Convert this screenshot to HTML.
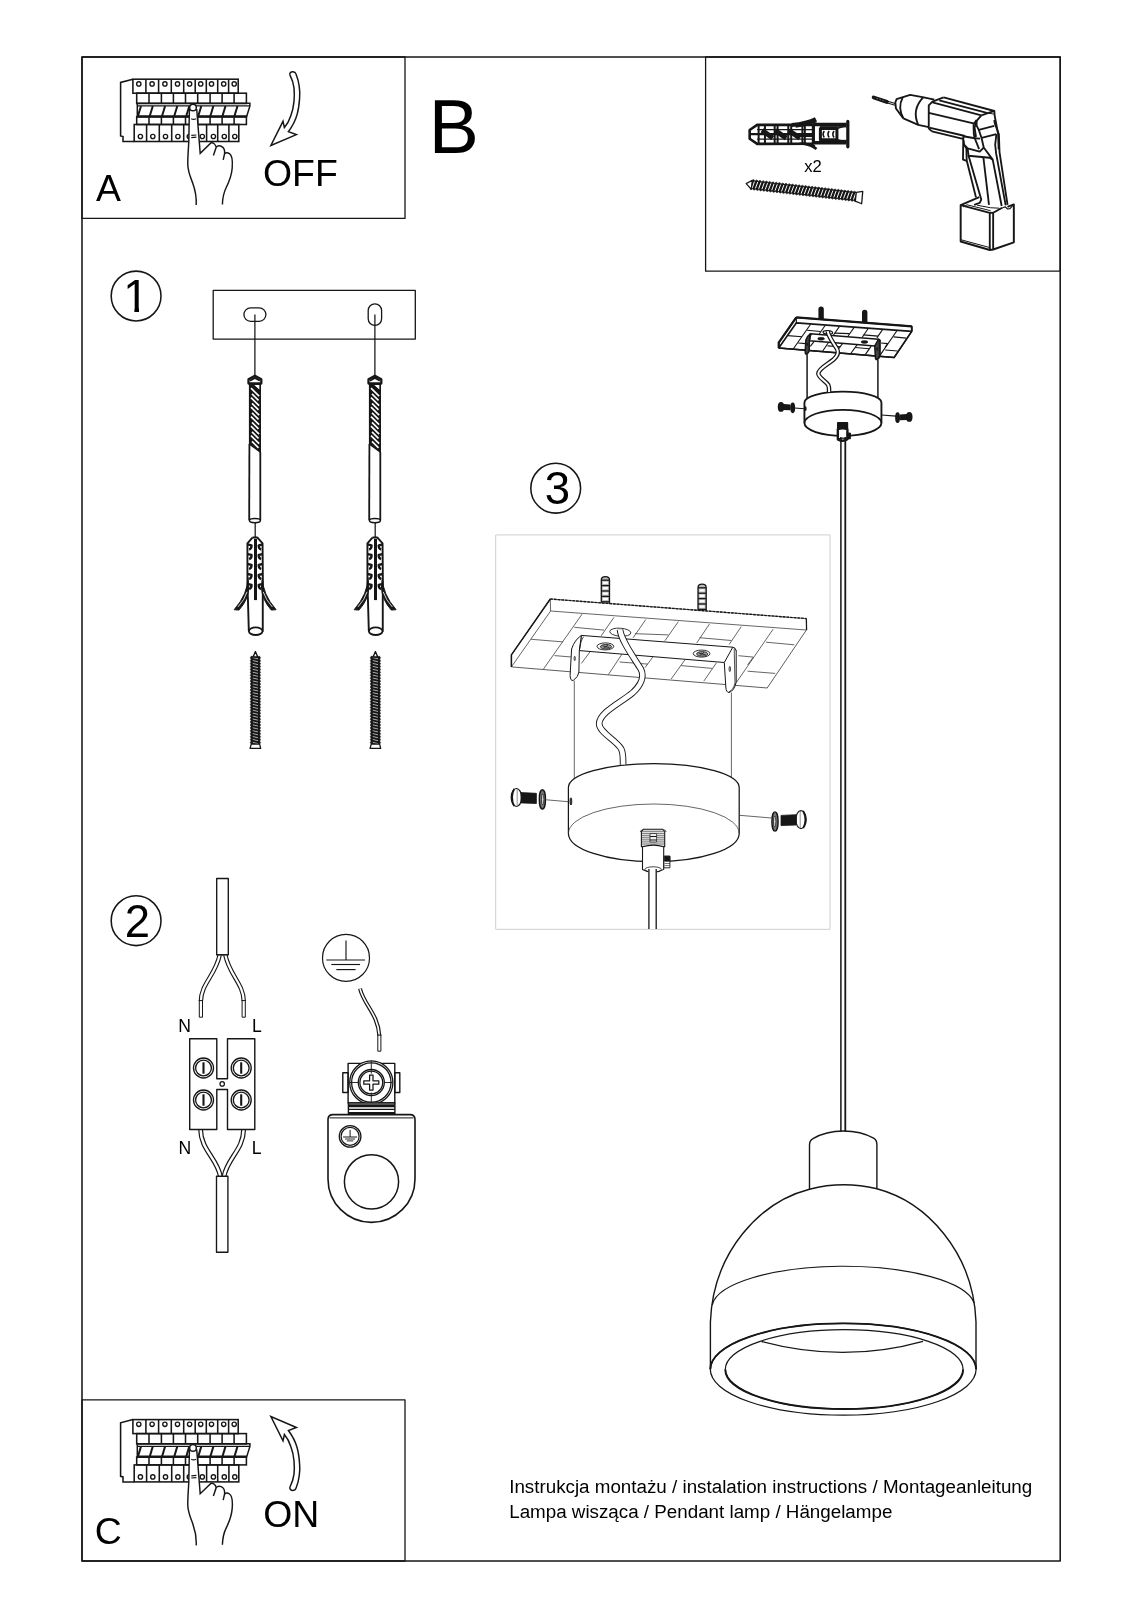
<!DOCTYPE html>
<html lang="pl"><head><meta charset="utf-8"><title>Instrukcja montażu</title>
<style>
html,body{margin:0;padding:0;background:#fff;}
body{width:1131px;height:1600px;overflow:hidden;}
svg{display:block;font-family:"Liberation Sans",sans-serif;will-change:transform;}
</style></head><body>
<svg width="1131" height="1600" viewBox="0 0 1131 1600" fill="none" stroke="#161616" stroke-linejoin="round">
<rect x="82" y="57" width="978.2" height="1504" fill="none" stroke-width="1.55" />
<rect x="82" y="57" width="323" height="161.4" fill="none" stroke-width="1.3" />
<rect x="82" y="1399.8" width="323" height="161.2" fill="none" stroke-width="1.3" />
<rect x="705.6" y="57" width="354.6" height="214.2" fill="none" stroke-width="1.3" />
<g transform="translate(0,0)" stroke-linejoin="miter">
<polyline points="132.9,79.2 120.6,82.4 120.6,135.9 123,136.5 123,141.5 134.2,141.5" fill="none" stroke-width="1.55" />
<rect x="132.9" y="79.2" width="105.3" height="14" fill="none" stroke-width="1.55" />
<line x1="145.9" y1="79.2" x2="145.9" y2="93.2" stroke-width="1.55" />
<line x1="158.6" y1="79.2" x2="158.6" y2="93.2" stroke-width="1.55" />
<line x1="171.3" y1="79.2" x2="171.3" y2="93.2" stroke-width="1.55" />
<line x1="183.7" y1="79.2" x2="183.7" y2="93.2" stroke-width="1.55" />
<line x1="195.2" y1="79.2" x2="195.2" y2="93.2" stroke-width="1.55" />
<line x1="206.3" y1="79.2" x2="206.3" y2="93.2" stroke-width="1.55" />
<line x1="217.7" y1="79.2" x2="217.7" y2="93.2" stroke-width="1.55" />
<line x1="228.6" y1="79.2" x2="228.6" y2="93.2" stroke-width="1.55" />
<circle cx="138.8" cy="83.9" r="2.15" fill="none" stroke-width="1.35" />
<circle cx="152.1" cy="83.9" r="2.15" fill="none" stroke-width="1.35" />
<circle cx="164.9" cy="83.9" r="2.15" fill="none" stroke-width="1.35" />
<circle cx="177.5" cy="83.9" r="2.15" fill="none" stroke-width="1.35" />
<circle cx="189.6" cy="83.9" r="2.15" fill="none" stroke-width="1.35" />
<circle cx="200.7" cy="83.9" r="2.15" fill="none" stroke-width="1.35" />
<circle cx="211.5" cy="83.9" r="2.15" fill="none" stroke-width="1.35" />
<circle cx="223.7" cy="83.9" r="2.15" fill="none" stroke-width="1.35" />
<circle cx="234.2" cy="83.9" r="2.15" fill="none" stroke-width="1.35" />
<rect x="136.7" y="93.2" width="109.7" height="10.3" fill="none" stroke-width="1.55" />
<line x1="149" y1="93.2" x2="149" y2="103.5" stroke-width="1.55" />
<line x1="161.4" y1="93.2" x2="161.4" y2="103.5" stroke-width="1.55" />
<line x1="173.4" y1="93.2" x2="173.4" y2="103.5" stroke-width="1.55" />
<line x1="185.5" y1="93.2" x2="185.5" y2="103.5" stroke-width="1.55" />
<line x1="197.7" y1="93.2" x2="197.7" y2="103.5" stroke-width="1.55" />
<line x1="210.1" y1="93.2" x2="210.1" y2="103.5" stroke-width="1.55" />
<line x1="222.1" y1="93.2" x2="222.1" y2="103.5" stroke-width="1.55" />
<line x1="234.1" y1="93.2" x2="234.1" y2="103.5" stroke-width="1.55" />
<rect x="136.7" y="116.7" width="109.7" height="7.8" fill="none" stroke-width="1.55" />
<line x1="149" y1="116.7" x2="149" y2="124.5" stroke-width="1.55" />
<line x1="161.4" y1="116.7" x2="161.4" y2="124.5" stroke-width="1.55" />
<line x1="173.4" y1="116.7" x2="173.4" y2="124.5" stroke-width="1.55" />
<line x1="185.5" y1="116.7" x2="185.5" y2="124.5" stroke-width="1.55" />
<line x1="197.7" y1="116.7" x2="197.7" y2="124.5" stroke-width="1.55" />
<line x1="210.1" y1="116.7" x2="210.1" y2="124.5" stroke-width="1.55" />
<line x1="222.1" y1="116.7" x2="222.1" y2="124.5" stroke-width="1.55" />
<line x1="234.1" y1="116.7" x2="234.1" y2="124.5" stroke-width="1.55" />
<polygon points="137.3,103.3 249.9,103.3 249.9,106 246.6,116.7 137.3,116.7" fill="none" stroke-width="1.5" />
<line x1="137.3" y1="105.9" x2="249.9" y2="105.9" stroke-width="1.2" />
<line x1="137.3" y1="116.3" x2="247" y2="116.3" stroke-width="2.2" />
<line x1="137.9" y1="116.3" x2="141" y2="106" stroke-width="2.0" />
<line x1="149.7" y1="116.3" x2="152.8" y2="106" stroke-width="2.0" />
<line x1="162" y1="116.3" x2="165.1" y2="106" stroke-width="2.0" />
<line x1="174.2" y1="116.3" x2="177.3" y2="106" stroke-width="2.0" />
<line x1="186.2" y1="116.3" x2="189.3" y2="106" stroke-width="2.0" />
<line x1="198.2" y1="116.3" x2="201.3" y2="106" stroke-width="2.0" />
<line x1="210.3" y1="116.3" x2="213.4" y2="106" stroke-width="2.0" />
<line x1="222.4" y1="116.3" x2="225.5" y2="106" stroke-width="2.0" />
<line x1="234.4" y1="116.3" x2="237.5" y2="106" stroke-width="2.0" />
<rect x="134.2" y="124.5" width="104.6" height="17" fill="none" stroke-width="1.55" />
<line x1="146.6" y1="124.5" x2="146.6" y2="141.5" stroke-width="1.55" />
<line x1="159.3" y1="124.5" x2="159.3" y2="141.5" stroke-width="1.55" />
<line x1="171.7" y1="124.5" x2="171.7" y2="141.5" stroke-width="1.55" />
<line x1="183.7" y1="124.5" x2="183.7" y2="141.5" stroke-width="1.55" />
<line x1="195.2" y1="124.5" x2="195.2" y2="141.5" stroke-width="1.55" />
<line x1="206.6" y1="124.5" x2="206.6" y2="141.5" stroke-width="1.55" />
<line x1="217.7" y1="124.5" x2="217.7" y2="141.5" stroke-width="1.55" />
<line x1="228.9" y1="124.5" x2="228.9" y2="141.5" stroke-width="1.55" />
<circle cx="140.4" cy="136.5" r="2.15" fill="none" stroke-width="1.35" />
<circle cx="152.8" cy="136.5" r="2.15" fill="none" stroke-width="1.35" />
<circle cx="165.5" cy="136.5" r="2.15" fill="none" stroke-width="1.35" />
<circle cx="177.9" cy="136.5" r="2.15" fill="none" stroke-width="1.35" />
<circle cx="189.3" cy="136.5" r="2.15" fill="none" stroke-width="1.35" />
<circle cx="202.3" cy="136.5" r="2.15" fill="none" stroke-width="1.35" />
<circle cx="213.4" cy="136.5" r="2.15" fill="none" stroke-width="1.35" />
<circle cx="224.3" cy="136.5" r="2.15" fill="none" stroke-width="1.35" />
<circle cx="234.8" cy="136.5" r="2.15" fill="none" stroke-width="1.35" />
<path d="M189.4,109 L188.8,141.4 C188.4,150 187.6,158 187.8,165 C188.2,173 191,178 193,184 C195.5,191 196.6,197 196.2,205 L222.4,204.4 C222.6,198 223.6,193 226,188 C229.5,181 231.6,176 232.2,168 C232.8,160 232.4,155.5 229.5,153.6 C227.6,152.4 225.6,152.6 224.6,153.6 C224.9,150 223.8,147.2 221.2,146.2 C219.2,145.5 217.2,146 216.2,147.2 C215.6,144.6 213.4,142.6 211.1,142.8 L200.2,153.3 L196.7,109 Z" fill="#fff" stroke-width="0" stroke="none"/>
<path d="M189.4,109 L188.8,141.4 C188.4,150 187.6,158 187.8,165 C188.2,173 191,178 193,184 C195.5,191 196.6,197 196.2,205" fill="none" stroke-width="1.45" />
<path d="M196.7,109 L200.2,153.3 L211.1,142.8 C213.4,142.6 215.6,144.6 216.2,147.2 L213.4,155.6" fill="none" stroke-width="1.45" />
<path d="M216.2,147.2 C217.2,146 219.2,145.5 221.2,146.2 C223.8,147.2 224.9,150 224.6,153.6 L223.2,159.8" fill="none" stroke-width="1.45" />
<path d="M224.6,153.6 C225.6,152.6 227.6,152.4 229.5,153.6 C232.4,155.5 232.8,160 232.2,168 C231.6,176 229.5,181 226,188 C223.6,193 222.6,198 222.4,204.4" fill="none" stroke-width="1.45" />
<circle cx="193" cy="107.5" r="3.3" fill="#fff" stroke-width="1.45" />
<path d="M191.2,118.8 Q193.6,120 196,118.8" fill="none" stroke-width="1.2" />
<line x1="191.3" y1="135.4" x2="196.4" y2="135" stroke-width="1.2" />
<line x1="191.3" y1="137.6" x2="196.4" y2="137.2" stroke-width="1.2" />
</g>
<path d="M290.0,75.1 C289.2,72.6 291.4,71.6 292.9,71.7 C294.6,71.8 295.6,72.6 296.0,73.9 C297.6,78 298.8,82 299.2,86.3 C299.8,90 300.0,94 299.6,98.2 C299.2,104 298.6,109 297.2,114.1 C295.6,120 292.6,126 288.4,131.6 L296.4,134.6 L270.9,145.5 L283.0,121.3 L284.4,127.6 C287.4,124 289.4,120 290.8,115.7 C292.6,111 293.6,106 294.0,101.4 C294.4,97 294.4,92 294.0,87.9 C293.4,83 292.0,79 290.0,75.1 Z" fill="none" stroke-width="1.5" stroke-linejoin="miter"/>
<g transform="translate(0,1340.4)" stroke-linejoin="miter">
<polyline points="132.9,79.2 120.6,82.4 120.6,135.9 123,136.5 123,141.5 134.2,141.5" fill="none" stroke-width="1.55" />
<rect x="132.9" y="79.2" width="105.3" height="14" fill="none" stroke-width="1.55" />
<line x1="145.9" y1="79.2" x2="145.9" y2="93.2" stroke-width="1.55" />
<line x1="158.6" y1="79.2" x2="158.6" y2="93.2" stroke-width="1.55" />
<line x1="171.3" y1="79.2" x2="171.3" y2="93.2" stroke-width="1.55" />
<line x1="183.7" y1="79.2" x2="183.7" y2="93.2" stroke-width="1.55" />
<line x1="195.2" y1="79.2" x2="195.2" y2="93.2" stroke-width="1.55" />
<line x1="206.3" y1="79.2" x2="206.3" y2="93.2" stroke-width="1.55" />
<line x1="217.7" y1="79.2" x2="217.7" y2="93.2" stroke-width="1.55" />
<line x1="228.6" y1="79.2" x2="228.6" y2="93.2" stroke-width="1.55" />
<circle cx="138.8" cy="83.9" r="2.15" fill="none" stroke-width="1.35" />
<circle cx="152.1" cy="83.9" r="2.15" fill="none" stroke-width="1.35" />
<circle cx="164.9" cy="83.9" r="2.15" fill="none" stroke-width="1.35" />
<circle cx="177.5" cy="83.9" r="2.15" fill="none" stroke-width="1.35" />
<circle cx="189.6" cy="83.9" r="2.15" fill="none" stroke-width="1.35" />
<circle cx="200.7" cy="83.9" r="2.15" fill="none" stroke-width="1.35" />
<circle cx="211.5" cy="83.9" r="2.15" fill="none" stroke-width="1.35" />
<circle cx="223.7" cy="83.9" r="2.15" fill="none" stroke-width="1.35" />
<circle cx="234.2" cy="83.9" r="2.15" fill="none" stroke-width="1.35" />
<rect x="136.7" y="93.2" width="109.7" height="10.3" fill="none" stroke-width="1.55" />
<line x1="149" y1="93.2" x2="149" y2="103.5" stroke-width="1.55" />
<line x1="161.4" y1="93.2" x2="161.4" y2="103.5" stroke-width="1.55" />
<line x1="173.4" y1="93.2" x2="173.4" y2="103.5" stroke-width="1.55" />
<line x1="185.5" y1="93.2" x2="185.5" y2="103.5" stroke-width="1.55" />
<line x1="197.7" y1="93.2" x2="197.7" y2="103.5" stroke-width="1.55" />
<line x1="210.1" y1="93.2" x2="210.1" y2="103.5" stroke-width="1.55" />
<line x1="222.1" y1="93.2" x2="222.1" y2="103.5" stroke-width="1.55" />
<line x1="234.1" y1="93.2" x2="234.1" y2="103.5" stroke-width="1.55" />
<rect x="136.7" y="116.7" width="109.7" height="7.8" fill="none" stroke-width="1.55" />
<line x1="149" y1="116.7" x2="149" y2="124.5" stroke-width="1.55" />
<line x1="161.4" y1="116.7" x2="161.4" y2="124.5" stroke-width="1.55" />
<line x1="173.4" y1="116.7" x2="173.4" y2="124.5" stroke-width="1.55" />
<line x1="185.5" y1="116.7" x2="185.5" y2="124.5" stroke-width="1.55" />
<line x1="197.7" y1="116.7" x2="197.7" y2="124.5" stroke-width="1.55" />
<line x1="210.1" y1="116.7" x2="210.1" y2="124.5" stroke-width="1.55" />
<line x1="222.1" y1="116.7" x2="222.1" y2="124.5" stroke-width="1.55" />
<line x1="234.1" y1="116.7" x2="234.1" y2="124.5" stroke-width="1.55" />
<polygon points="137.3,103.3 249.9,103.3 249.9,106 246.6,116.7 137.3,116.7" fill="none" stroke-width="1.5" />
<line x1="137.3" y1="105.9" x2="249.9" y2="105.9" stroke-width="1.2" />
<line x1="137.3" y1="116.3" x2="247" y2="116.3" stroke-width="2.2" />
<line x1="137.9" y1="116.3" x2="141" y2="106" stroke-width="2.0" />
<line x1="149.7" y1="116.3" x2="152.8" y2="106" stroke-width="2.0" />
<line x1="162" y1="116.3" x2="165.1" y2="106" stroke-width="2.0" />
<line x1="174.2" y1="116.3" x2="177.3" y2="106" stroke-width="2.0" />
<line x1="186.2" y1="116.3" x2="189.3" y2="106" stroke-width="2.0" />
<line x1="198.2" y1="116.3" x2="201.3" y2="106" stroke-width="2.0" />
<line x1="210.3" y1="116.3" x2="213.4" y2="106" stroke-width="2.0" />
<line x1="222.4" y1="116.3" x2="225.5" y2="106" stroke-width="2.0" />
<line x1="234.4" y1="116.3" x2="237.5" y2="106" stroke-width="2.0" />
<rect x="134.2" y="124.5" width="104.6" height="17" fill="none" stroke-width="1.55" />
<line x1="146.6" y1="124.5" x2="146.6" y2="141.5" stroke-width="1.55" />
<line x1="159.3" y1="124.5" x2="159.3" y2="141.5" stroke-width="1.55" />
<line x1="171.7" y1="124.5" x2="171.7" y2="141.5" stroke-width="1.55" />
<line x1="183.7" y1="124.5" x2="183.7" y2="141.5" stroke-width="1.55" />
<line x1="195.2" y1="124.5" x2="195.2" y2="141.5" stroke-width="1.55" />
<line x1="206.6" y1="124.5" x2="206.6" y2="141.5" stroke-width="1.55" />
<line x1="217.7" y1="124.5" x2="217.7" y2="141.5" stroke-width="1.55" />
<line x1="228.9" y1="124.5" x2="228.9" y2="141.5" stroke-width="1.55" />
<circle cx="140.4" cy="136.5" r="2.15" fill="none" stroke-width="1.35" />
<circle cx="152.8" cy="136.5" r="2.15" fill="none" stroke-width="1.35" />
<circle cx="165.5" cy="136.5" r="2.15" fill="none" stroke-width="1.35" />
<circle cx="177.9" cy="136.5" r="2.15" fill="none" stroke-width="1.35" />
<circle cx="189.3" cy="136.5" r="2.15" fill="none" stroke-width="1.35" />
<circle cx="202.3" cy="136.5" r="2.15" fill="none" stroke-width="1.35" />
<circle cx="213.4" cy="136.5" r="2.15" fill="none" stroke-width="1.35" />
<circle cx="224.3" cy="136.5" r="2.15" fill="none" stroke-width="1.35" />
<circle cx="234.8" cy="136.5" r="2.15" fill="none" stroke-width="1.35" />
<path d="M189.4,109 L188.8,141.4 C188.4,150 187.6,158 187.8,165 C188.2,173 191,178 193,184 C195.5,191 196.6,197 196.2,205 L222.4,204.4 C222.6,198 223.6,193 226,188 C229.5,181 231.6,176 232.2,168 C232.8,160 232.4,155.5 229.5,153.6 C227.6,152.4 225.6,152.6 224.6,153.6 C224.9,150 223.8,147.2 221.2,146.2 C219.2,145.5 217.2,146 216.2,147.2 C215.6,144.6 213.4,142.6 211.1,142.8 L200.2,153.3 L196.7,109 Z" fill="#fff" stroke-width="0" stroke="none"/>
<path d="M189.4,109 L188.8,141.4 C188.4,150 187.6,158 187.8,165 C188.2,173 191,178 193,184 C195.5,191 196.6,197 196.2,205" fill="none" stroke-width="1.45" />
<path d="M196.7,109 L200.2,153.3 L211.1,142.8 C213.4,142.6 215.6,144.6 216.2,147.2 L213.4,155.6" fill="none" stroke-width="1.45" />
<path d="M216.2,147.2 C217.2,146 219.2,145.5 221.2,146.2 C223.8,147.2 224.9,150 224.6,153.6 L223.2,159.8" fill="none" stroke-width="1.45" />
<path d="M224.6,153.6 C225.6,152.6 227.6,152.4 229.5,153.6 C232.4,155.5 232.8,160 232.2,168 C231.6,176 229.5,181 226,188 C223.6,193 222.6,198 222.4,204.4" fill="none" stroke-width="1.45" />
<circle cx="193" cy="107.5" r="3.3" fill="#fff" stroke-width="1.45" />
<path d="M191.2,118.8 Q193.6,120 196,118.8" fill="none" stroke-width="1.2" />
<line x1="191.3" y1="135.4" x2="196.4" y2="135" stroke-width="1.2" />
<line x1="191.3" y1="137.6" x2="196.4" y2="137.2" stroke-width="1.2" />
</g>
<g transform="translate(0,1562.1) scale(1,-1)"><path d="M290.0,75.1 C289.2,72.6 291.4,71.6 292.9,71.7 C294.6,71.8 295.6,72.6 296.0,73.9 C297.6,78 298.8,82 299.2,86.3 C299.8,90 300.0,94 299.6,98.2 C299.2,104 298.6,109 297.2,114.1 C295.6,120 292.6,126 288.4,131.6 L296.4,134.6 L270.9,145.5 L283.0,121.3 L284.4,127.6 C287.4,124 289.4,120 290.8,115.7 C292.6,111 293.6,106 294.0,101.4 C294.4,97 294.4,92 294.0,87.9 C293.4,83 292.0,79 290.0,75.1 Z" fill="none" stroke-width="1.5" stroke-linejoin="miter"/></g>
<polygon points="749.67,130 757.16,124.84 813.09,124.84 813.09,143.61 757.16,143.91 749.67,138.75" fill="#fff" stroke-width="2.6" />
<polyline points="749.67,134.18 813.09,134.18" fill="none" stroke-width="2.2" />
<polyline points="758.62,124.84 758.62,143.91" fill="none" stroke-width="2.0" />
<polyline points="764.94,124.84 764.94,143.91" fill="none" stroke-width="2.0" />
<polyline points="774.67,124.84 774.67,143.91" fill="none" stroke-width="2.0" />
<polyline points="777.59,124.84 777.59,143.91" fill="none" stroke-width="2.0" />
<polyline points="788.29,124.84 788.29,143.91" fill="none" stroke-width="2.0" />
<polyline points="791.21,124.84 791.21,143.91" fill="none" stroke-width="2.0" />
<polyline points="802.39,124.84 802.39,143.91" fill="none" stroke-width="2.0" />
<polyline points="804.82,124.84 804.82,143.91" fill="none" stroke-width="2.0" />
<polyline points="757.16,129.7 813.09,129.7" fill="none" stroke-width="1.3" />
<polyline points="757.16,139.04 813.09,139.04" fill="none" stroke-width="1.3" />
<polyline points="762.02,130.29 772.72,138.07" fill="none" stroke-width="5.0" />
<polyline points="775.16,130.48 786.34,138.07" fill="none" stroke-width="5.0" />
<polyline points="788.77,130.48 799.96,138.07" fill="none" stroke-width="5.0" />
<polyline points="797.53,135.35 813.09,135.35" fill="none" stroke-width="3.4" />
<path d="M791.69,125.04 Q807.26,123.48 815.82,119" fill="none" stroke-width="4.0" />
<path d="M795.58,126.59 Q807.26,125.13 816.5,121.24" fill="none" stroke-width="2.4" />
<path d="M803.37,143.61 Q811.15,144.59 816.5,148.96" fill="none" stroke-width="2.6" />
<path d="M799.47,143.32 Q808.23,143.13 815.04,146.05" fill="none" stroke-width="1.6" />
<polyline points="813.09,124.45 846.65,124.45" fill="none" stroke-width="3.6" />
<polyline points="813.09,142.74 846.65,142.74" fill="none" stroke-width="3.6" />
<polyline points="813.87,124.16 813.87,142.93" fill="none" stroke-width="2.2" />
<polyline points="819.9,126.79 846.65,126.79" fill="none" stroke-width="1.3" />
<polyline points="819.9,140.5 846.65,140.5" fill="none" stroke-width="1.3" />
<polygon points="820.39,128.54 836.93,128.54 836.93,139.72 820.39,139.72" fill="none" stroke-width="3.0" />
<polyline points="836.93,128.54 846.17,125.62" fill="none" stroke-width="1.5" />
<polyline points="836.93,139.72 846.17,141.67" fill="none" stroke-width="1.5" />
<path d="M824.28,130.97 Q821.95,134.18 824.28,137.49" fill="none" stroke-width="1.6" />
<path d="M829.14,130.97 Q826.81,134.18 829.14,137.49" fill="none" stroke-width="1.6" />
<path d="M834.01,130.97 Q831.67,134.18 834.01,137.49" fill="none" stroke-width="1.6" />
<polyline points="847.82,121.44 847.82,146.82" fill="none" stroke-width="3.2" stroke-linecap="round"/>
<g transform="translate(751.3,184.6) rotate(6.52)">
<polygon points="0,-4.1 1.64,-5.2 3.29,-4.1 4.93,-5.2 6.58,-4.1 8.22,-5.2 9.86,-4.1 11.51,-5.2 13.15,-4.1 14.79,-5.2 16.44,-4.1 18.08,-5.2 19.73,-4.1 21.37,-5.2 23.01,-4.1 24.66,-5.2 26.3,-4.1 27.94,-5.2 29.59,-4.1 31.23,-5.2 32.88,-4.1 34.52,-5.2 36.16,-4.1 37.81,-5.2 39.45,-4.1 41.09,-5.2 42.74,-4.1 44.38,-5.2 46.02,-4.1 47.67,-5.2 49.31,-4.1 50.96,-5.2 52.6,-4.1 54.24,-5.2 55.89,-4.1 57.53,-5.2 59.18,-4.1 60.82,-5.2 62.46,-4.1 64.11,-5.2 65.75,-4.1 67.39,-5.2 69.04,-4.1 70.68,-5.2 72.33,-4.1 73.97,-5.2 75.61,-4.1 77.26,-5.2 78.9,-4.1 80.54,-5.2 82.19,-4.1 83.83,-5.2 85.48,-4.1 87.12,-5.2 88.76,-4.1 90.41,-5.2 92.05,-4.1 93.69,-5.2 95.34,-4.1 96.98,-5.2 98.62,-4.1 100.27,-5.2 101.91,-4.1 103.56,-5.2 105.2,-4.1 105.2,5.2 103.56,4.1 101.91,5.2 100.27,4.1 98.62,5.2 96.98,4.1 95.34,5.2 93.69,4.1 92.05,5.2 90.41,4.1 88.76,5.2 87.12,4.1 85.48,5.2 83.83,4.1 82.19,5.2 80.54,4.1 78.9,5.2 77.26,4.1 75.61,5.2 73.97,4.1 72.33,5.2 70.68,4.1 69.04,5.2 67.39,4.1 65.75,5.2 64.11,4.1 62.46,5.2 60.82,4.1 59.18,5.2 57.53,4.1 55.89,5.2 54.24,4.1 52.6,5.2 50.96,4.1 49.31,5.2 47.67,4.1 46.02,5.2 44.38,4.1 42.74,5.2 41.09,4.1 39.45,5.2 37.81,4.1 36.16,5.2 34.52,4.1 32.88,5.2 31.23,4.1 29.59,5.2 27.94,4.1 26.3,5.2 24.66,4.1 23.01,5.2 21.37,4.1 19.73,5.2 18.08,4.1 16.44,5.2 14.79,4.1 13.15,5.2 11.51,4.1 9.86,5.2 8.22,4.1 6.58,5.2 4.93,4.1 3.29,5.2 1.64,4.1 0,5.2" fill="#161616" stroke-width="0.6" />
<line x1="2.81" y1="-3.3" x2="1.21" y2="3.3" stroke-width="0.95" stroke="#fff"/>
<line x1="6.1" y1="-3.3" x2="4.5" y2="3.3" stroke-width="0.95" stroke="#fff"/>
<line x1="9.38" y1="-3.3" x2="7.78" y2="3.3" stroke-width="0.95" stroke="#fff"/>
<line x1="12.67" y1="-3.3" x2="11.07" y2="3.3" stroke-width="0.95" stroke="#fff"/>
<line x1="15.96" y1="-3.3" x2="14.36" y2="3.3" stroke-width="0.95" stroke="#fff"/>
<line x1="19.25" y1="-3.3" x2="17.65" y2="3.3" stroke-width="0.95" stroke="#fff"/>
<line x1="22.53" y1="-3.3" x2="20.93" y2="3.3" stroke-width="0.95" stroke="#fff"/>
<line x1="25.82" y1="-3.3" x2="24.22" y2="3.3" stroke-width="0.95" stroke="#fff"/>
<line x1="29.11" y1="-3.3" x2="27.51" y2="3.3" stroke-width="0.95" stroke="#fff"/>
<line x1="32.4" y1="-3.3" x2="30.8" y2="3.3" stroke-width="0.95" stroke="#fff"/>
<line x1="35.68" y1="-3.3" x2="34.08" y2="3.3" stroke-width="0.95" stroke="#fff"/>
<line x1="38.97" y1="-3.3" x2="37.37" y2="3.3" stroke-width="0.95" stroke="#fff"/>
<line x1="42.26" y1="-3.3" x2="40.66" y2="3.3" stroke-width="0.95" stroke="#fff"/>
<line x1="45.55" y1="-3.3" x2="43.95" y2="3.3" stroke-width="0.95" stroke="#fff"/>
<line x1="48.83" y1="-3.3" x2="47.23" y2="3.3" stroke-width="0.95" stroke="#fff"/>
<line x1="52.12" y1="-3.3" x2="50.52" y2="3.3" stroke-width="0.95" stroke="#fff"/>
<line x1="55.41" y1="-3.3" x2="53.81" y2="3.3" stroke-width="0.95" stroke="#fff"/>
<line x1="58.7" y1="-3.3" x2="57.1" y2="3.3" stroke-width="0.95" stroke="#fff"/>
<line x1="61.98" y1="-3.3" x2="60.38" y2="3.3" stroke-width="0.95" stroke="#fff"/>
<line x1="65.27" y1="-3.3" x2="63.67" y2="3.3" stroke-width="0.95" stroke="#fff"/>
<line x1="68.56" y1="-3.3" x2="66.96" y2="3.3" stroke-width="0.95" stroke="#fff"/>
<line x1="71.85" y1="-3.3" x2="70.25" y2="3.3" stroke-width="0.95" stroke="#fff"/>
<line x1="75.13" y1="-3.3" x2="73.53" y2="3.3" stroke-width="0.95" stroke="#fff"/>
<line x1="78.42" y1="-3.3" x2="76.82" y2="3.3" stroke-width="0.95" stroke="#fff"/>
<line x1="81.71" y1="-3.3" x2="80.11" y2="3.3" stroke-width="0.95" stroke="#fff"/>
<line x1="85" y1="-3.3" x2="83.4" y2="3.3" stroke-width="0.95" stroke="#fff"/>
<line x1="88.28" y1="-3.3" x2="86.68" y2="3.3" stroke-width="0.95" stroke="#fff"/>
<line x1="91.57" y1="-3.3" x2="89.97" y2="3.3" stroke-width="0.95" stroke="#fff"/>
<line x1="94.86" y1="-3.3" x2="93.26" y2="3.3" stroke-width="0.95" stroke="#fff"/>
<line x1="98.15" y1="-3.3" x2="96.55" y2="3.3" stroke-width="0.95" stroke="#fff"/>
<line x1="101.43" y1="-3.3" x2="99.83" y2="3.3" stroke-width="0.95" stroke="#fff"/>
<line x1="104.72" y1="-3.3" x2="103.12" y2="3.3" stroke-width="0.95" stroke="#fff"/>
<polygon points="0.5,-4.4 -5.2,-0.4 0.5,4.6" fill="#fff" stroke-width="1.2" />
<polygon points="105.2,-4.3 111.5,-5.9 111.8,6.5 105.2,4.7" fill="#fff" stroke-width="1.3" />
</g>
<polyline points="873.66,97.5 886.78,101.96" fill="none" stroke-width="3.9" stroke-linecap="round"/>
<polyline points="876.76,98.37 885.42,101.34" fill="none" stroke-width="0.6" stroke="#ccc" stroke-dasharray="1.2 1.8"/>
<polyline points="887.03,101.09 895.08,103.57" fill="none" stroke-width="1.1" />
<polyline points="886.66,102.7 895.08,105.18" fill="none" stroke-width="1.1" />
<polyline points="903.37,118.42 895.94,108.52 895.33,102.33 896.56,99.23 910.18,94.9 923.79,97.38 934.32,99.61" fill="none" stroke-width="1.85" />
<path d="M902.75,97.38 Q897.43,107.28 903.37,118.42" fill="none" stroke-width="1.85" />
<polyline points="903.37,118.42 918.22,124.86 928.75,127.08" fill="none" stroke-width="1.85" />
<path d="M923.18,97.38 Q911.42,109.76 918.22,124.86" fill="none" stroke-width="1.85" />
<polyline points="943.6,97.38 932.46,101.71 928.75,105.42 928.75,128.32 931.84,131.42" fill="none" stroke-width="1.85" />
<polyline points="943.6,97.38 994.35,110.99" fill="none" stroke-width="1.85" />
<polyline points="939.27,100.47 986.92,112.85" fill="none" stroke-width="1.85" />
<polyline points="932.46,102.33 981.35,115.33" fill="none" stroke-width="1.85" />
<polyline points="928.75,112.85 974.54,123.62 976.4,121.14" fill="none" stroke-width="1.85" />
<polyline points="929.36,127.7 964.02,135.75 965.01,136.74" fill="none" stroke-width="1.85" />
<polyline points="931.84,131.42 964.02,139.21" fill="none" stroke-width="1.85" />
<polyline points="981.35,115.33 994.35,110.99 994.6,115.33 998.06,133.52 998.68,149.36" fill="none" stroke-width="1.85" />
<polyline points="986.92,112.85 993.73,114.09" fill="none" stroke-width="1.0" />
<polyline points="981.35,115.33 976.4,121.14 974.54,127.7 976.03,136.99" fill="none" stroke-width="1.85" />
<polyline points="973.52,124.33 976.61,120" fill="none" stroke-width="1.85" />
<polyline points="973.52,124.33 973.83,134.24 974.76,138.26" fill="none" stroke-width="1.85" />
<polyline points="976.61,120 976.61,125.57 978.78,129.9 981.57,137.95 983.73,147.54 992.71,159.61 1001.68,206.03" fill="none" stroke-width="1.85" />
<polyline points="978.78,129.9 994.25,125.88" fill="none" stroke-width="1.85" />
<polyline points="981.57,137.95 996.42,134.11" fill="none" stroke-width="1.85" />
<polyline points="994.25,120 994.87,123.71 998.9,134.24 999.51,152.18 1007.56,204.79" fill="none" stroke-width="1.85" />
<polyline points="996.42,134.11 995.18,144.76 996.11,153.42 1005.7,205.41" fill="none" stroke-width="1.85" />
<polyline points="963.31,136.22 974.76,138.26 980.02,138.57" fill="none" stroke-width="1.85" />
<polyline points="963.31,136.22 963,159.61 966.71,160.85" fill="none" stroke-width="1.85" />
<polyline points="963.62,140.42 964.11,144.76 967.64,148.35 979.71,151.69 983.73,147.54" fill="none" stroke-width="1.85" />
<polyline points="964.85,145.99 966.4,148.47 966.71,160.85" fill="none" stroke-width="1.85" />
<polyline points="974.76,138.26 979.09,149.09" fill="none" stroke-width="1.85" />
<polyline points="967.64,148.35 968.57,155.77 989.61,157.75 992.71,159.61" fill="none" stroke-width="1.85" />
<polyline points="966.71,160.54 975.99,197.37" fill="none" stroke-width="1.85" />
<polyline points="968.57,155.77 981.26,199.53 979.71,202.94 974.14,204.79" fill="none" stroke-width="1.85" />
<polyline points="983.42,157.75 988.99,204.79" fill="none" stroke-width="1.85" />
<polyline points="979.23,197.2 960.67,205.22 960.67,241.5 989.78,249.94 993.16,249.51 1013.83,242.34 1013.83,204.37 1007.5,206.91" fill="none" stroke-width="1.9500000000000002" />
<polyline points="960.67,205.22 989.78,212.81 989.78,249.94" fill="none" stroke-width="1.85" />
<polyline points="993.16,249.51 993.16,212.81 999.06,209.44 1002.44,207.75" fill="none" stroke-width="1.85" />
<polyline points="989.78,212.81 993.16,212.81" fill="none" stroke-width="1.85" />
<polyline points="963.2,206.91 967,204.8 990.62,210.7" fill="none" stroke-width="1.0" />
<polyline points="977.12,205.22 990.62,207.75 999.06,208.17" fill="none" stroke-width="1.0" />
<polyline points="961.26,239.81 989.78,247.57" fill="none" stroke-width="1.0" />
<polyline points="1002.44,207.75 1005.39,206.91 1007.5,209.01 1010.03,208.59 1013.83,204.37" fill="none" stroke-width="1.2" />
<circle cx="136.1" cy="296" r="24.9" fill="none" stroke-width="1.55" />
<text x="136" y="311.8" font-size="45.5" text-anchor="middle" fill="#000" stroke="none">1</text>
<rect x="124.5" y="307.6" width="9.9" height="5.2" fill="#fff" stroke-width="0" stroke="none"/>
<rect x="139" y="307.6" width="9.6" height="5.2" fill="#fff" stroke-width="0" stroke="none"/>
<rect x="213.2" y="290.4" width="202.1" height="48.7" fill="none" stroke-width="1.3" />
<rect x="243.9" y="307.9" width="22" height="13.4" fill="none" stroke-width="1.3" rx="6.7"/>
<rect x="368.2" y="303.8" width="13.4" height="21.6" fill="none" stroke-width="1.3" rx="6.7"/>
<line x1="254.9" y1="314.6" x2="254.9" y2="375.6" stroke-width="1.25" />
<polygon points="254.9,375.8 261.3,379.2 261.3,383.5 248.5,383.5 248.5,379.2" fill="#fff" stroke-width="2.3" />
<polyline points="249.9,380.6 254.9,377.9 259.9,380.6" fill="none" stroke-width="1.9" />
<polygon points="248.9,383.7 261,383.7 261,453.4 248.9,444.6" fill="#161616" stroke-width="0" stroke="none"/>
<polygon points="254.3,385 259.3,385 259.3,389.6" fill="#fff" stroke-width="0" stroke="none"/>
<line x1="251" y1="388.2" x2="259.1" y2="396.2" stroke-width="1.65" stroke="#fff"/>
<line x1="252" y1="393.85" x2="258.5" y2="400.35" stroke-width="1.65" stroke="#fff"/>
<line x1="251" y1="397.7" x2="259.1" y2="405.7" stroke-width="1.65" stroke="#fff"/>
<line x1="252" y1="403.35" x2="258.5" y2="409.85" stroke-width="1.65" stroke="#fff"/>
<line x1="251" y1="407.2" x2="259.1" y2="415.2" stroke-width="1.65" stroke="#fff"/>
<line x1="252" y1="412.85" x2="258.5" y2="419.35" stroke-width="1.65" stroke="#fff"/>
<line x1="251" y1="416.7" x2="259.1" y2="424.7" stroke-width="1.65" stroke="#fff"/>
<line x1="252" y1="422.35" x2="258.5" y2="428.85" stroke-width="1.65" stroke="#fff"/>
<line x1="251" y1="426.2" x2="259.1" y2="434.2" stroke-width="1.65" stroke="#fff"/>
<line x1="252" y1="431.85" x2="258.5" y2="438.35" stroke-width="1.65" stroke="#fff"/>
<line x1="251" y1="435.7" x2="259.1" y2="443.7" stroke-width="1.65" stroke="#fff"/>
<line x1="252" y1="441.35" x2="258.5" y2="447.85" stroke-width="1.65" stroke="#fff"/>
<line x1="249.4" y1="444" x2="249.2" y2="520.3" stroke-width="1.8" />
<line x1="260.3" y1="452" x2="260.3" y2="520.3" stroke-width="1.8" />
<ellipse cx="254.9" cy="520.6" rx="5.5" ry="2.2" fill="none" stroke-width="1.5" />
<line x1="255.2" y1="522.6" x2="255.2" y2="537.4" stroke-width="1.25" />
<polyline points="252.45,537.56 257.4,537.56 262.56,543.4 262.9,587.04 262.76,598.73 262.76,631.03 248.81,631.03 247.92,598.73 247.44,587.04 247.44,543.4 252.45,537.56" fill="#fff" stroke-width="1.9" />
<ellipse cx="255.7" cy="631.2" rx="6.8" ry="3.8" fill="#fff" stroke-width="1.8" />
<path d="M247.44,544.43 L251.56,545.33 Q251.7,548.56 249.15,549.59" fill="none" stroke-width="2.4" />
<path d="M262.83,544.43 L258.71,545.33 Q258.57,548.56 261.11,549.59" fill="none" stroke-width="2.4" />
<path d="M247.44,554.05 L251.56,554.95 Q251.7,558.18 249.15,559.21" fill="none" stroke-width="2.4" />
<path d="M262.83,554.05 L258.71,554.95 Q258.57,558.18 261.11,559.21" fill="none" stroke-width="2.4" />
<path d="M247.44,564.02 L251.56,564.91 Q251.7,568.14 249.15,569.18" fill="none" stroke-width="2.4" />
<path d="M262.83,564.02 L258.71,564.91 Q258.57,568.14 261.11,569.18" fill="none" stroke-width="2.4" />
<path d="M247.44,573.99 L251.56,574.88 Q251.7,578.11 249.15,579.14" fill="none" stroke-width="2.4" />
<path d="M262.83,573.99 L258.71,574.88 Q258.57,578.11 261.11,579.14" fill="none" stroke-width="2.4" />
<path d="M247.44,583.95 L251.56,584.85 Q251.7,588.08 249.15,589.11" fill="none" stroke-width="2.4" />
<path d="M262.83,583.95 L258.71,584.85 Q258.57,588.08 261.11,589.11" fill="none" stroke-width="2.4" />
<polyline points="255.48,538.93 255.48,600.1" fill="none" stroke-width="3.0" />
<path d="M247.92,577.42 Q247.92,593.92 234.17,609.73 L238.98,610.07 Q248.61,599.42 248.81,587.04 Z" fill="#161616" stroke-width="1.0" />
<path d="M237.95,606.98 Q244.83,599.42 247.02,591.86" fill="none" stroke-width="0.8" stroke="#fff"/>
<path d="M262.35,577.42 Q262.35,593.92 276.1,609.73 L271.29,610.07 Q261.66,599.42 261.46,587.04 Z" fill="#161616" stroke-width="1.0" />
<path d="M272.32,606.98 Q265.44,599.42 263.24,591.86" fill="none" stroke-width="0.8" stroke="#fff"/>
<polygon points="251.1,656.3 250.2,657.76 251.1,659.22 250.2,660.68 251.1,662.15 250.2,663.61 251.1,665.07 250.2,666.53 251.1,667.99 250.2,669.46 251.1,670.92 250.2,672.38 251.1,673.84 250.2,675.3 251.1,676.76 250.2,678.23 251.1,679.69 250.2,681.15 251.1,682.61 250.2,684.07 251.1,685.53 250.2,687 251.1,688.46 250.2,689.92 251.1,691.38 250.2,692.84 251.1,694.3 250.2,695.76 251.1,697.23 250.2,698.69 251.1,700.15 250.2,701.61 251.1,703.07 250.2,704.53 251.1,706 250.2,707.46 251.1,708.92 250.2,710.38 251.1,711.84 250.2,713.31 251.1,714.77 250.2,716.23 251.1,717.69 250.2,719.15 251.1,720.61 250.2,722.08 251.1,723.54 250.2,725 251.1,726.46 250.2,727.92 251.1,729.38 250.2,730.85 251.1,732.31 250.2,733.77 251.1,735.23 250.2,736.69 251.1,738.15 250.2,739.62 251.1,741.08 250.2,742.54 251.1,744 259.7,744 260.6,742.54 259.7,741.08 260.6,739.62 259.7,738.15 260.6,736.69 259.7,735.23 260.6,733.77 259.7,732.31 260.6,730.85 259.7,729.38 260.6,727.92 259.7,726.46 260.6,725 259.7,723.54 260.6,722.08 259.7,720.61 260.6,719.15 259.7,717.69 260.6,716.23 259.7,714.77 260.6,713.31 259.7,711.84 260.6,710.38 259.7,708.92 260.6,707.46 259.7,706 260.6,704.53 259.7,703.07 260.6,701.61 259.7,700.15 260.6,698.69 259.7,697.23 260.6,695.76 259.7,694.3 260.6,692.84 259.7,691.38 260.6,689.92 259.7,688.46 260.6,687 259.7,685.53 260.6,684.07 259.7,682.61 260.6,681.15 259.7,679.69 260.6,678.23 259.7,676.76 260.6,675.3 259.7,673.84 260.6,672.38 259.7,670.92 260.6,669.46 259.7,667.99 260.6,666.53 259.7,665.07 260.6,663.61 259.7,662.15 260.6,660.68 259.7,659.22 260.6,657.76 259.7,656.3" fill="#161616" stroke-width="0.5" />
<line x1="252.8" y1="657.61" x2="258" y2="658.81" stroke-width="0.75" stroke="#ddd"/>
<line x1="252.8" y1="660.53" x2="258" y2="661.73" stroke-width="0.75" stroke="#ddd"/>
<line x1="252.8" y1="663.45" x2="258" y2="664.65" stroke-width="0.75" stroke="#ddd"/>
<line x1="252.8" y1="666.38" x2="258" y2="667.58" stroke-width="0.75" stroke="#ddd"/>
<line x1="252.8" y1="669.3" x2="258" y2="670.5" stroke-width="0.75" stroke="#ddd"/>
<line x1="252.8" y1="672.22" x2="258" y2="673.42" stroke-width="0.75" stroke="#ddd"/>
<line x1="252.8" y1="675.15" x2="258" y2="676.35" stroke-width="0.75" stroke="#ddd"/>
<line x1="252.8" y1="678.07" x2="258" y2="679.27" stroke-width="0.75" stroke="#ddd"/>
<line x1="252.8" y1="680.99" x2="258" y2="682.19" stroke-width="0.75" stroke="#ddd"/>
<line x1="252.8" y1="683.92" x2="258" y2="685.12" stroke-width="0.75" stroke="#ddd"/>
<line x1="252.8" y1="686.84" x2="258" y2="688.04" stroke-width="0.75" stroke="#ddd"/>
<line x1="252.8" y1="689.76" x2="258" y2="690.96" stroke-width="0.75" stroke="#ddd"/>
<line x1="252.8" y1="692.69" x2="258" y2="693.89" stroke-width="0.75" stroke="#ddd"/>
<line x1="252.8" y1="695.61" x2="258" y2="696.81" stroke-width="0.75" stroke="#ddd"/>
<line x1="252.8" y1="698.53" x2="258" y2="699.73" stroke-width="0.75" stroke="#ddd"/>
<line x1="252.8" y1="701.46" x2="258" y2="702.66" stroke-width="0.75" stroke="#ddd"/>
<line x1="252.8" y1="704.38" x2="258" y2="705.58" stroke-width="0.75" stroke="#ddd"/>
<line x1="252.8" y1="707.3" x2="258" y2="708.5" stroke-width="0.75" stroke="#ddd"/>
<line x1="252.8" y1="710.23" x2="258" y2="711.43" stroke-width="0.75" stroke="#ddd"/>
<line x1="252.8" y1="713.15" x2="258" y2="714.35" stroke-width="0.75" stroke="#ddd"/>
<line x1="252.8" y1="716.07" x2="258" y2="717.27" stroke-width="0.75" stroke="#ddd"/>
<line x1="252.8" y1="719" x2="258" y2="720.2" stroke-width="0.75" stroke="#ddd"/>
<line x1="252.8" y1="721.92" x2="258" y2="723.12" stroke-width="0.75" stroke="#ddd"/>
<line x1="252.8" y1="724.84" x2="258" y2="726.04" stroke-width="0.75" stroke="#ddd"/>
<line x1="252.8" y1="727.77" x2="258" y2="728.97" stroke-width="0.75" stroke="#ddd"/>
<line x1="252.8" y1="730.69" x2="258" y2="731.89" stroke-width="0.75" stroke="#ddd"/>
<line x1="252.8" y1="733.61" x2="258" y2="734.81" stroke-width="0.75" stroke="#ddd"/>
<line x1="252.8" y1="736.54" x2="258" y2="737.74" stroke-width="0.75" stroke="#ddd"/>
<line x1="252.8" y1="739.46" x2="258" y2="740.66" stroke-width="0.75" stroke="#ddd"/>
<line x1="252.8" y1="742.38" x2="258" y2="743.58" stroke-width="0.75" stroke="#ddd"/>
<polygon points="253.1,657 255.4,651.6 257.7,657" fill="#fff" stroke-width="1.4" />
<polygon points="251.2,744.2 259.6,744.2 260.7,748.4 250.1,748.4" fill="#fff" stroke-width="1.3" />
<line x1="374.9" y1="314.6" x2="374.9" y2="375.6" stroke-width="1.25" />
<polygon points="374.9,375.8 381.3,379.2 381.3,383.5 368.5,383.5 368.5,379.2" fill="#fff" stroke-width="2.3" />
<polyline points="369.9,380.6 374.9,377.9 379.9,380.6" fill="none" stroke-width="1.9" />
<polygon points="368.9,383.7 381,383.7 381,453.4 368.9,444.6" fill="#161616" stroke-width="0" stroke="none"/>
<polygon points="374.3,385 379.3,385 379.3,389.6" fill="#fff" stroke-width="0" stroke="none"/>
<line x1="371" y1="388.2" x2="379.1" y2="396.2" stroke-width="1.65" stroke="#fff"/>
<line x1="372" y1="393.85" x2="378.5" y2="400.35" stroke-width="1.65" stroke="#fff"/>
<line x1="371" y1="397.7" x2="379.1" y2="405.7" stroke-width="1.65" stroke="#fff"/>
<line x1="372" y1="403.35" x2="378.5" y2="409.85" stroke-width="1.65" stroke="#fff"/>
<line x1="371" y1="407.2" x2="379.1" y2="415.2" stroke-width="1.65" stroke="#fff"/>
<line x1="372" y1="412.85" x2="378.5" y2="419.35" stroke-width="1.65" stroke="#fff"/>
<line x1="371" y1="416.7" x2="379.1" y2="424.7" stroke-width="1.65" stroke="#fff"/>
<line x1="372" y1="422.35" x2="378.5" y2="428.85" stroke-width="1.65" stroke="#fff"/>
<line x1="371" y1="426.2" x2="379.1" y2="434.2" stroke-width="1.65" stroke="#fff"/>
<line x1="372" y1="431.85" x2="378.5" y2="438.35" stroke-width="1.65" stroke="#fff"/>
<line x1="371" y1="435.7" x2="379.1" y2="443.7" stroke-width="1.65" stroke="#fff"/>
<line x1="372" y1="441.35" x2="378.5" y2="447.85" stroke-width="1.65" stroke="#fff"/>
<line x1="369.4" y1="444" x2="369.2" y2="520.3" stroke-width="1.8" />
<line x1="380.3" y1="452" x2="380.3" y2="520.3" stroke-width="1.8" />
<ellipse cx="374.9" cy="520.6" rx="5.5" ry="2.2" fill="none" stroke-width="1.5" />
<line x1="375.2" y1="522.6" x2="375.2" y2="537.4" stroke-width="1.25" />
<polyline points="372.45,537.56 377.4,537.56 382.56,543.4 382.9,587.04 382.76,598.73 382.76,631.03 368.81,631.03 367.92,598.73 367.44,587.04 367.44,543.4 372.45,537.56" fill="#fff" stroke-width="1.9" />
<ellipse cx="375.7" cy="631.2" rx="6.8" ry="3.8" fill="#fff" stroke-width="1.8" />
<path d="M367.44,544.43 L371.56,545.33 Q371.7,548.56 369.15,549.59" fill="none" stroke-width="2.4" />
<path d="M382.83,544.43 L378.71,545.33 Q378.57,548.56 381.11,549.59" fill="none" stroke-width="2.4" />
<path d="M367.44,554.05 L371.56,554.95 Q371.7,558.18 369.15,559.21" fill="none" stroke-width="2.4" />
<path d="M382.83,554.05 L378.71,554.95 Q378.57,558.18 381.11,559.21" fill="none" stroke-width="2.4" />
<path d="M367.44,564.02 L371.56,564.91 Q371.7,568.14 369.15,569.18" fill="none" stroke-width="2.4" />
<path d="M382.83,564.02 L378.71,564.91 Q378.57,568.14 381.11,569.18" fill="none" stroke-width="2.4" />
<path d="M367.44,573.99 L371.56,574.88 Q371.7,578.11 369.15,579.14" fill="none" stroke-width="2.4" />
<path d="M382.83,573.99 L378.71,574.88 Q378.57,578.11 381.11,579.14" fill="none" stroke-width="2.4" />
<path d="M367.44,583.95 L371.56,584.85 Q371.7,588.08 369.15,589.11" fill="none" stroke-width="2.4" />
<path d="M382.83,583.95 L378.71,584.85 Q378.57,588.08 381.11,589.11" fill="none" stroke-width="2.4" />
<polyline points="375.48,538.93 375.48,600.1" fill="none" stroke-width="3.0" />
<path d="M367.92,577.42 Q367.92,593.92 354.17,609.73 L358.98,610.07 Q368.61,599.42 368.81,587.04 Z" fill="#161616" stroke-width="1.0" />
<path d="M357.95,606.98 Q364.83,599.42 367.02,591.86" fill="none" stroke-width="0.8" stroke="#fff"/>
<path d="M382.35,577.42 Q382.35,593.92 396.1,609.73 L391.29,610.07 Q381.66,599.42 381.46,587.04 Z" fill="#161616" stroke-width="1.0" />
<path d="M392.32,606.98 Q385.44,599.42 383.24,591.86" fill="none" stroke-width="0.8" stroke="#fff"/>
<polygon points="371.1,656.3 370.2,657.76 371.1,659.22 370.2,660.68 371.1,662.15 370.2,663.61 371.1,665.07 370.2,666.53 371.1,667.99 370.2,669.46 371.1,670.92 370.2,672.38 371.1,673.84 370.2,675.3 371.1,676.76 370.2,678.23 371.1,679.69 370.2,681.15 371.1,682.61 370.2,684.07 371.1,685.53 370.2,687 371.1,688.46 370.2,689.92 371.1,691.38 370.2,692.84 371.1,694.3 370.2,695.76 371.1,697.23 370.2,698.69 371.1,700.15 370.2,701.61 371.1,703.07 370.2,704.53 371.1,706 370.2,707.46 371.1,708.92 370.2,710.38 371.1,711.84 370.2,713.31 371.1,714.77 370.2,716.23 371.1,717.69 370.2,719.15 371.1,720.61 370.2,722.08 371.1,723.54 370.2,725 371.1,726.46 370.2,727.92 371.1,729.38 370.2,730.85 371.1,732.31 370.2,733.77 371.1,735.23 370.2,736.69 371.1,738.15 370.2,739.62 371.1,741.08 370.2,742.54 371.1,744 379.7,744 380.6,742.54 379.7,741.08 380.6,739.62 379.7,738.15 380.6,736.69 379.7,735.23 380.6,733.77 379.7,732.31 380.6,730.85 379.7,729.38 380.6,727.92 379.7,726.46 380.6,725 379.7,723.54 380.6,722.08 379.7,720.61 380.6,719.15 379.7,717.69 380.6,716.23 379.7,714.77 380.6,713.31 379.7,711.84 380.6,710.38 379.7,708.92 380.6,707.46 379.7,706 380.6,704.53 379.7,703.07 380.6,701.61 379.7,700.15 380.6,698.69 379.7,697.23 380.6,695.76 379.7,694.3 380.6,692.84 379.7,691.38 380.6,689.92 379.7,688.46 380.6,687 379.7,685.53 380.6,684.07 379.7,682.61 380.6,681.15 379.7,679.69 380.6,678.23 379.7,676.76 380.6,675.3 379.7,673.84 380.6,672.38 379.7,670.92 380.6,669.46 379.7,667.99 380.6,666.53 379.7,665.07 380.6,663.61 379.7,662.15 380.6,660.68 379.7,659.22 380.6,657.76 379.7,656.3" fill="#161616" stroke-width="0.5" />
<line x1="372.8" y1="657.61" x2="378" y2="658.81" stroke-width="0.75" stroke="#ddd"/>
<line x1="372.8" y1="660.53" x2="378" y2="661.73" stroke-width="0.75" stroke="#ddd"/>
<line x1="372.8" y1="663.45" x2="378" y2="664.65" stroke-width="0.75" stroke="#ddd"/>
<line x1="372.8" y1="666.38" x2="378" y2="667.58" stroke-width="0.75" stroke="#ddd"/>
<line x1="372.8" y1="669.3" x2="378" y2="670.5" stroke-width="0.75" stroke="#ddd"/>
<line x1="372.8" y1="672.22" x2="378" y2="673.42" stroke-width="0.75" stroke="#ddd"/>
<line x1="372.8" y1="675.15" x2="378" y2="676.35" stroke-width="0.75" stroke="#ddd"/>
<line x1="372.8" y1="678.07" x2="378" y2="679.27" stroke-width="0.75" stroke="#ddd"/>
<line x1="372.8" y1="680.99" x2="378" y2="682.19" stroke-width="0.75" stroke="#ddd"/>
<line x1="372.8" y1="683.92" x2="378" y2="685.12" stroke-width="0.75" stroke="#ddd"/>
<line x1="372.8" y1="686.84" x2="378" y2="688.04" stroke-width="0.75" stroke="#ddd"/>
<line x1="372.8" y1="689.76" x2="378" y2="690.96" stroke-width="0.75" stroke="#ddd"/>
<line x1="372.8" y1="692.69" x2="378" y2="693.89" stroke-width="0.75" stroke="#ddd"/>
<line x1="372.8" y1="695.61" x2="378" y2="696.81" stroke-width="0.75" stroke="#ddd"/>
<line x1="372.8" y1="698.53" x2="378" y2="699.73" stroke-width="0.75" stroke="#ddd"/>
<line x1="372.8" y1="701.46" x2="378" y2="702.66" stroke-width="0.75" stroke="#ddd"/>
<line x1="372.8" y1="704.38" x2="378" y2="705.58" stroke-width="0.75" stroke="#ddd"/>
<line x1="372.8" y1="707.3" x2="378" y2="708.5" stroke-width="0.75" stroke="#ddd"/>
<line x1="372.8" y1="710.23" x2="378" y2="711.43" stroke-width="0.75" stroke="#ddd"/>
<line x1="372.8" y1="713.15" x2="378" y2="714.35" stroke-width="0.75" stroke="#ddd"/>
<line x1="372.8" y1="716.07" x2="378" y2="717.27" stroke-width="0.75" stroke="#ddd"/>
<line x1="372.8" y1="719" x2="378" y2="720.2" stroke-width="0.75" stroke="#ddd"/>
<line x1="372.8" y1="721.92" x2="378" y2="723.12" stroke-width="0.75" stroke="#ddd"/>
<line x1="372.8" y1="724.84" x2="378" y2="726.04" stroke-width="0.75" stroke="#ddd"/>
<line x1="372.8" y1="727.77" x2="378" y2="728.97" stroke-width="0.75" stroke="#ddd"/>
<line x1="372.8" y1="730.69" x2="378" y2="731.89" stroke-width="0.75" stroke="#ddd"/>
<line x1="372.8" y1="733.61" x2="378" y2="734.81" stroke-width="0.75" stroke="#ddd"/>
<line x1="372.8" y1="736.54" x2="378" y2="737.74" stroke-width="0.75" stroke="#ddd"/>
<line x1="372.8" y1="739.46" x2="378" y2="740.66" stroke-width="0.75" stroke="#ddd"/>
<line x1="372.8" y1="742.38" x2="378" y2="743.58" stroke-width="0.75" stroke="#ddd"/>
<polygon points="373.1,657 375.4,651.6 377.7,657" fill="#fff" stroke-width="1.4" />
<polygon points="371.2,744.2 379.6,744.2 380.7,748.4 370.1,748.4" fill="#fff" stroke-width="1.3" />
<circle cx="136.1" cy="920.7" r="24.9" fill="none" stroke-width="1.55" />
<text x="137.4" y="936.6" font-size="45.5" text-anchor="middle" fill="#000" stroke="none">2</text>
<polygon points="216.7,878.5 216.7,954.8 228.3,954.8 228.3,878.5" fill="none" stroke-width="1.35" />
<path d="M219.6,955.2 C215.5,975 201,984 200.9,1001" fill="none" stroke-width="4.4" stroke-linecap="butt"/><path d="M219.6,955.2 C215.5,975 201,984 200.9,1001" fill="none" stroke="#fff" stroke-width="2.2" stroke-linecap="butt"/>
<path d="M225.4,955.2 C229.5,975 243.6,984 243.7,1001" fill="none" stroke-width="4.4" stroke-linecap="butt"/><path d="M225.4,955.2 C229.5,975 243.6,984 243.7,1001" fill="none" stroke="#fff" stroke-width="2.2" stroke-linecap="butt"/>
<line x1="216.7" y1="954.8" x2="228.3" y2="954.8" stroke-width="1.35" />
<polyline points="199.3,1000.6 199.3,1017.2 202.5,1017.2 202.5,1000.6" fill="none" stroke-width="1.0" />
<polyline points="242.1,1000.6 242.1,1017.2 245.3,1017.2 245.3,1000.6" fill="none" stroke-width="1.0" />
<line x1="198.8" y1="1000.6" x2="203" y2="1000.6" stroke-width="1.0" />
<line x1="241.6" y1="1000.6" x2="245.8" y2="1000.6" stroke-width="1.0" />
<text x="178.2" y="1032.4" font-size="17.6" fill="#000" stroke="none">N</text>
<text x="251.9" y="1032.4" font-size="17.6" fill="#000" stroke="none">L</text>
<text x="178.4" y="1153.5" font-size="17.6" fill="#000" stroke="none">N</text>
<text x="251.7" y="1153.5" font-size="17.6" fill="#000" stroke="none">L</text>
<path d="M200.6,1129.5 C200.8,1150 217,1158 220.4,1176.4" fill="none" stroke-width="4.9" stroke-linecap="butt"/><path d="M200.6,1129.5 C200.8,1150 217,1158 220.4,1176.4" fill="none" stroke="#fff" stroke-width="2.5" stroke-linecap="butt"/>
<path d="M243.6,1129.5 C243.4,1150 227.4,1158 224.0,1176.4" fill="none" stroke-width="4.9" stroke-linecap="butt"/><path d="M243.6,1129.5 C243.4,1150 227.4,1158 224.0,1176.4" fill="none" stroke="#fff" stroke-width="2.5" stroke-linecap="butt"/>
<polygon points="216.5,1176.2 216.5,1252.2 227.9,1252.2 227.9,1176.2" fill="#fff" stroke-width="1.35" />
<polygon points="189.7,1038.7 216.8,1038.7 216.8,1078.7 227.5,1078.7 227.5,1038.7 254.8,1038.7 254.8,1129.5 227.5,1129.5 227.5,1089.5 216.8,1089.5 216.8,1129.5 189.7,1129.5" fill="#fff" stroke-width="1.4" />
<circle cx="222.2" cy="1083.9" r="2.2" fill="none" stroke-width="1.25" />
<circle cx="203.5" cy="1068" r="10" fill="none" stroke-width="1.35" />
<circle cx="203.5" cy="1068" r="7.9" fill="none" stroke-width="1.35" />
<line x1="203.5" y1="1062.3" x2="203.5" y2="1073.7" stroke-width="2.1" />
<circle cx="203.5" cy="1100" r="10" fill="none" stroke-width="1.35" />
<circle cx="203.5" cy="1100" r="7.9" fill="none" stroke-width="1.35" />
<line x1="203.5" y1="1094.3" x2="203.5" y2="1105.7" stroke-width="2.1" />
<circle cx="241.2" cy="1068" r="10" fill="none" stroke-width="1.35" />
<circle cx="241.2" cy="1068" r="7.9" fill="none" stroke-width="1.35" />
<line x1="241.2" y1="1062.3" x2="241.2" y2="1073.7" stroke-width="2.1" />
<circle cx="241.2" cy="1100" r="10" fill="none" stroke-width="1.35" />
<circle cx="241.2" cy="1100" r="7.9" fill="none" stroke-width="1.35" />
<line x1="241.2" y1="1094.3" x2="241.2" y2="1105.7" stroke-width="2.1" />
<circle cx="346" cy="957.9" r="23.5" fill="none" stroke-width="1.2" />
<line x1="346" y1="940.6" x2="346" y2="960" stroke-width="1.15" />
<line x1="326.3" y1="960" x2="365" y2="960" stroke-width="1.15" />
<line x1="331.3" y1="964.5" x2="360" y2="964.5" stroke-width="1.15" />
<line x1="336.3" y1="969.6" x2="355.6" y2="969.6" stroke-width="1.15" />
<path d="M360.0,988.6 C364,1005 378,1014 379.3,1035.4" fill="none" stroke-width="4.0" stroke-linecap="butt"/><path d="M360.0,988.6 C364,1005 378,1014 379.3,1035.4" fill="none" stroke="#fff" stroke-width="1.6" stroke-linecap="butt"/>
<polyline points="377.8,1035 377.8,1051.2 380.9,1051.2 380.9,1035" fill="none" stroke-width="1.0" />
<line x1="377.2" y1="1035" x2="381.4" y2="1035" stroke-width="1.0" />
<rect x="348.1" y="1063.4" width="46.7" height="39.6" fill="#fff" stroke-width="1.4" />
<rect x="342.8" y="1072.8" width="5.3" height="19.7" fill="none" stroke-width="1.4" />
<rect x="394.8" y="1072.8" width="5" height="19.7" fill="none" stroke-width="1.4" />
<clipPath id="etc"><rect x="340" y="1055" width="62" height="48"/></clipPath>
<g clip-path="url(#etc)">
<circle cx="371.3" cy="1082.5" r="21.6" fill="#fff" stroke-width="1.3" />
<circle cx="371.3" cy="1082.5" r="19.7" fill="none" stroke-width="1.3" />
<circle cx="371.3" cy="1082.5" r="13" fill="none" stroke-width="1.3" />
<circle cx="371.3" cy="1082.5" r="11.4" fill="none" stroke-width="1.3" />
</g>
<line x1="371.3" y1="1060.6" x2="371.3" y2="1073.7" stroke-width="0.9" />
<line x1="371.3" y1="1092.5" x2="371.3" y2="1103.5" stroke-width="0.9" />
<line x1="350" y1="1082.5" x2="358" y2="1082.5" stroke-width="0.9" />
<line x1="384.4" y1="1082.5" x2="392.8" y2="1082.5" stroke-width="0.9" />
<polygon points="369.6,1075 373,1075 373,1080.8 378.8,1080.8 378.8,1084.2 373,1084.2 373,1090 369.6,1090 369.6,1084.2 363.8,1084.2 363.8,1080.8 369.6,1080.8" fill="none" stroke-width="1.25" />
<rect x="348.4" y="1103" width="46.5" height="11.6" fill="#fff" stroke-width="1.4" />
<line x1="348.4" y1="1105.8" x2="394.9" y2="1105.8" stroke-width="3.0" />
<line x1="348.4" y1="1109.4" x2="394.9" y2="1109.4" stroke-width="1.2" />
<line x1="348.4" y1="1113.2" x2="394.9" y2="1113.2" stroke-width="2.2" />
<path d="M333,1114.6 L410,1114.6 Q415,1114.6 415,1119.6 L415,1178.9 A43.5,43.5 0 0 1 328,1178.9 L328,1119.6 Q328,1114.6 333,1114.6 Z" fill="#fff" stroke-width="1.6" />
<line x1="329.5" y1="1117.9" x2="413.5" y2="1117.9" stroke-width="1.0" />
<circle cx="371.5" cy="1181.8" r="27.1" fill="none" stroke-width="1.5" />
<circle cx="350.1" cy="1136.4" r="10.8" fill="none" stroke-width="1.3" />
<circle cx="350.1" cy="1136.4" r="9" fill="none" stroke-width="1.2" />
<line x1="350.1" y1="1129.9" x2="350.1" y2="1137" stroke-width="1.0" />
<line x1="343.1" y1="1137" x2="357.1" y2="1137" stroke-width="1.0" />
<line x1="345.1" y1="1139" x2="355.1" y2="1139" stroke-width="0.9" />
<line x1="346.9" y1="1140.9" x2="353.3" y2="1140.9" stroke-width="0.9" />
<circle cx="555.7" cy="488.2" r="24.9" fill="none" stroke-width="1.55" />
<text x="557.3" y="504.4" font-size="45.5" text-anchor="middle" fill="#000" stroke="none">3</text>
<rect x="495.7" y="534.9" width="334.3" height="394.4" fill="none" stroke-width="1.0" stroke="#cfcfcf"/>
<g>
<path d="M601.3,603 L601.3,580.1 Q601.3,576.6 605.4,576.6 Q609.5,576.6 609.5,580.1 L609.5,603" fill="#bbb" stroke-width="1.3"/>
<line x1="601.3" y1="580.2" x2="609.5" y2="580.2" stroke-width="1.3" />
<line x1="602.9" y1="582.8" x2="607.9" y2="582.8" stroke-width="2.2" stroke="#fff"/>
<line x1="601.3" y1="585.6" x2="609.5" y2="585.6" stroke-width="1.3" />
<line x1="602.9" y1="588.2" x2="607.9" y2="588.2" stroke-width="2.2" stroke="#fff"/>
<line x1="601.3" y1="591" x2="609.5" y2="591" stroke-width="1.3" />
<line x1="602.9" y1="593.6" x2="607.9" y2="593.6" stroke-width="2.2" stroke="#fff"/>
<line x1="601.3" y1="596.4" x2="609.5" y2="596.4" stroke-width="1.3" />
<line x1="602.9" y1="599" x2="607.9" y2="599" stroke-width="2.2" stroke="#fff"/>
<line x1="601.3" y1="601.8" x2="609.5" y2="601.8" stroke-width="1.3" />
<line x1="602.9" y1="604.4" x2="607.9" y2="604.4" stroke-width="2.2" stroke="#fff"/>
<path d="M698,611 L698,587.7 Q698,584.2 702.1,584.2 Q706.2,584.2 706.2,587.7 L706.2,611" fill="#bbb" stroke-width="1.3"/>
<line x1="698" y1="587.8" x2="706.2" y2="587.8" stroke-width="1.3" />
<line x1="699.6" y1="590.4" x2="704.6" y2="590.4" stroke-width="2.2" stroke="#fff"/>
<line x1="698" y1="593.2" x2="706.2" y2="593.2" stroke-width="1.3" />
<line x1="699.6" y1="595.8" x2="704.6" y2="595.8" stroke-width="2.2" stroke="#fff"/>
<line x1="698" y1="598.6" x2="706.2" y2="598.6" stroke-width="1.3" />
<line x1="699.6" y1="601.2" x2="704.6" y2="601.2" stroke-width="2.2" stroke="#fff"/>
<line x1="698" y1="604" x2="706.2" y2="604" stroke-width="1.3" />
<line x1="699.6" y1="606.6" x2="704.6" y2="606.6" stroke-width="2.2" stroke="#fff"/>
<line x1="698" y1="609.4" x2="706.2" y2="609.4" stroke-width="1.3" />
<line x1="699.6" y1="612" x2="704.6" y2="612" stroke-width="2.2" stroke="#fff"/>
<polygon points="550.3,599 806.4,618.6 806.4,630 767.2,688 511.4,666.9 511.4,654.9" fill="#fff" stroke-width="0.8" stroke="#333"/>
<polyline points="511.4,666.9 550.6,611 806.4,630" fill="none" stroke-width="0.75" stroke="#333"/>
<line x1="550.3" y1="599" x2="550.6" y2="611" stroke-width="0.75" stroke="#333"/>
<polyline points="550.3,599 511.4,654.9 511.4,666.9" fill="none" stroke-width="1.5" />
<line x1="550.3" y1="599" x2="806.4" y2="618.6" stroke-width="1.35" stroke-dasharray="2.6 1.1"/>
<polyline points="806.4,618.6 806.6,630" fill="none" stroke-width="1.2" />
<line x1="582.1" y1="614.1" x2="543.5" y2="669" stroke-width="0.75" stroke="#333"/>
<line x1="531.2" y1="639.3" x2="563" y2="641.9" stroke-width="0.75" stroke="#333"/>
<line x1="574.3" y1="627.3" x2="604" y2="630.1" stroke-width="0.75" stroke="#333"/>
<line x1="613.9" y1="617.4" x2="601.2" y2="635.8" stroke-width="0.75" stroke="#333"/>
<line x1="645.8" y1="619.5" x2="633" y2="637.9" stroke-width="0.75" stroke="#333"/>
<line x1="635.1" y1="633.7" x2="668.4" y2="634.9" stroke-width="0.75" stroke="#333"/>
<line x1="554.5" y1="655.6" x2="571.5" y2="657" stroke-width="0.75" stroke="#333"/>
<line x1="589.9" y1="652" x2="581.4" y2="663.4" stroke-width="0.75" stroke="#333"/>
<line x1="622.4" y1="653.5" x2="608.3" y2="674.7" stroke-width="0.75" stroke="#333"/>
<line x1="619.6" y1="662" x2="647.9" y2="664.1" stroke-width="0.75" stroke="#333"/>
<line x1="652.8" y1="657" x2="645" y2="667.6" stroke-width="0.75" stroke="#333"/>
<line x1="678.3" y1="621.7" x2="664.9" y2="640.8" stroke-width="0.75" stroke="#333"/>
<line x1="709.4" y1="624.1" x2="696.7" y2="643" stroke-width="0.75" stroke="#333"/>
<line x1="741.2" y1="626.7" x2="729.2" y2="644.4" stroke-width="0.75" stroke="#333"/>
<line x1="773.1" y1="629.2" x2="736.3" y2="682.6" stroke-width="0.75" stroke="#333"/>
<line x1="766" y1="642.2" x2="794.3" y2="644.8" stroke-width="0.75" stroke="#333"/>
<line x1="747.6" y1="671.2" x2="775.2" y2="673.4" stroke-width="0.75" stroke="#333"/>
<line x1="699.5" y1="637.7" x2="731.3" y2="640.5" stroke-width="0.75" stroke="#333"/>
<line x1="738.4" y1="655.7" x2="753.3" y2="657.1" stroke-width="0.75" stroke="#333"/>
<line x1="753.3" y1="657.1" x2="747.6" y2="664.9" stroke-width="0.75" stroke="#333"/>
<line x1="685.4" y1="659.2" x2="671.2" y2="679" stroke-width="0.75" stroke="#333"/>
<line x1="716.5" y1="662.8" x2="703.8" y2="681.1" stroke-width="0.75" stroke="#333"/>
<line x1="681.1" y1="665.6" x2="712.2" y2="668.4" stroke-width="0.75" stroke="#333"/>
<ellipse cx="620.3" cy="632.2" rx="10.6" ry="4" fill="#fff" stroke-width="0.8250000000000001" transform="rotate(4 620.3 632.2)"/>
<polygon points="581.4,635.4 650,640.8 732.8,647.2 736,650.5 724.3,662.5 650,656.4 579.3,650.6" fill="#fff" stroke-width="1.0" />
<path d="M581.4,635.4 Q574.5,640 571.6,649 L570.1,675.5 Q570.4,681.5 573.4,680.3 Q578.4,677 578.9,672 L579.3,650.6 Z" fill="#fff" stroke-width="1.0" />
<path d="M583.6,636.6 Q580.4,641 579.4,650.6" fill="none" stroke-width="0.75" />
<ellipse cx="574.7" cy="658.5" rx="0.6" ry="2.2" fill="none" stroke-width="0.8" />
<path d="M732.8,647.2 Q735.8,647.6 736.2,651 L736.2,682 Q734.6,690.6 729,692.5 Q726.2,692.5 725.8,687 L724.3,662.5 Z" fill="#fff" stroke-width="1.0" />
<path d="M734.2,648.6 L735.0,683 Q733.4,690 728.8,692" fill="none" stroke-width="0.75" />
<ellipse cx="729.8" cy="669" rx="0.7" ry="2.6" fill="none" stroke-width="0.8" />
<ellipse cx="605.4" cy="646.4" rx="8.4" ry="3.5" fill="#fff" stroke-width="0.9" />
<ellipse cx="606" cy="646.7" rx="5.6" ry="2.3" fill="#999" stroke-width="0.8" />
<line x1="602.4" y1="645.8" x2="609.4" y2="647.6" stroke-width="0.8" />
<line x1="607.9" y1="645.2" x2="603.9" y2="648" stroke-width="0.8" />
<ellipse cx="701.6" cy="653.6" rx="8.4" ry="3.5" fill="#fff" stroke-width="0.9" />
<ellipse cx="702.2" cy="653.9" rx="5.6" ry="2.3" fill="#999" stroke-width="0.8" />
<line x1="698.6" y1="653" x2="705.6" y2="654.8" stroke-width="0.8" />
<line x1="704.1" y1="652.4" x2="700.1" y2="655.2" stroke-width="0.8" />
<line x1="574.3" y1="680.6" x2="574.3" y2="790" stroke-width="0.75" stroke="#333"/>
<line x1="731.4" y1="692.6" x2="731.4" y2="790" stroke-width="0.75" stroke="#333"/>
<path d="M568.4,787.6 A85.4,24 0 0 1 739.1999999999999,787.6 L739.1999999999999,833.4 A85.4,28.3 0 0 1 568.4,833.4 Z" fill="#fff" stroke-width="1.25" />
<path d="M568.4,833.4 A85.4,29.4 0 0 1 739.1999999999999,833.4" fill="none" stroke-width="0.75" stroke="#333"/>
<path d="M620,629.6 C621,640 632,655 640.8,669 C645,677 640,686 633,692.4 C622,702 600,712 599.2,723.3 C598.6,732 616,740 621.1,748.7 C623.4,753 623.0,758 623.1,764.6" fill="none" stroke-width="6.6" stroke-linecap="butt"/><path d="M620,629.6 C621,640 632,655 640.8,669 C645,677 640,686 633,692.4 C622,702 600,712 599.2,723.3 C598.6,732 616,740 621.1,748.7 C623.4,753 623.0,758 623.1,764.6" fill="none" stroke="#fff" stroke-width="4.725" stroke-linecap="butt"/>
<ellipse cx="570.9" cy="801.4" rx="0.9" ry="3.6" fill="#555" stroke-width="0.9" />
<ellipse cx="516.4" cy="797.5" rx="5.2" ry="9" fill="#fff" stroke-width="1.2" />
<path d="M514.2,788.9 Q509.8,797.5 514.2,806.1" fill="none" stroke-width="1.8" />
<line x1="517.2" y1="788.7" x2="517.2" y2="806.3" stroke-width="0.7" stroke="#666"/>
<polygon points="521,792.6 536.4,793.3 536.4,803.5 521,802.9" fill="#161616" stroke-width="0.8" />
<ellipse cx="542.4" cy="799.4" rx="3.1" ry="9.6" fill="#777" stroke-width="1.4" />
<ellipse cx="542.7" cy="799.4" rx="1.2" ry="5.5" fill="#ddd" stroke-width="0.8" />
<line x1="546.3" y1="799.8" x2="568.2" y2="801.7" stroke-width="0.75" stroke="#333"/>
<ellipse cx="801" cy="819.6" rx="5.2" ry="9" fill="#fff" stroke-width="1.2" />
<path d="M803.2,811 Q807.6,819.6 803.2,828.2" fill="none" stroke-width="1.8" />
<line x1="800.2" y1="810.8" x2="800.2" y2="828.4" stroke-width="0.7" stroke="#666"/>
<polygon points="796.4,814.7 781,815.4 781,825.6 796.4,825" fill="#161616" stroke-width="0.8" />
<ellipse cx="775" cy="821.5" rx="3.1" ry="9.6" fill="#777" stroke-width="1.4" />
<ellipse cx="774.7" cy="821.5" rx="1.2" ry="5.5" fill="#ddd" stroke-width="0.8" />
<line x1="739.4" y1="815.3" x2="771.6" y2="818" stroke-width="0.75" stroke="#333"/>
<polygon points="641.4,846.7 641.4,831.5 643.5,829.2 662.6,829.2 664.7,831.5 664.7,846.7" fill="#ddd" stroke-width="1.1" />
<line x1="641.6" y1="831.4" x2="664.5" y2="831.4" stroke-width="0.6" stroke="#444"/>
<line x1="641.6" y1="833.5" x2="664.5" y2="833.5" stroke-width="0.6" stroke="#444"/>
<line x1="641.6" y1="835.6" x2="664.5" y2="835.6" stroke-width="0.6" stroke="#444"/>
<line x1="641.6" y1="837.7" x2="664.5" y2="837.7" stroke-width="0.6" stroke="#444"/>
<line x1="641.6" y1="839.8" x2="664.5" y2="839.8" stroke-width="0.6" stroke="#444"/>
<line x1="641.6" y1="841.9" x2="664.5" y2="841.9" stroke-width="0.6" stroke="#444"/>
<line x1="641.6" y1="844" x2="664.5" y2="844" stroke-width="0.6" stroke="#444"/>
<rect x="650" y="833.5" width="6.6" height="8.5" fill="#eee" stroke-width="0.7" />
<line x1="650" y1="836.5" x2="656.6" y2="836.5" stroke-width="1.0" />
<line x1="650" y1="840" x2="656.6" y2="840" stroke-width="1.0" />
<path d="M640.2,831.8 L642,829.6 M666.2,831.8 L664.4,829.6" fill="none" stroke-width="0.9" />
<path d="M642.5,846.7 Q653.6,843.5 663.7,846.7 L663.7,869.4 Q653.6,875.5 642.5,869.4 Z" fill="#fff" stroke-width="1.1" />
<ellipse cx="653.1" cy="869.4" rx="8.2" ry="2.6" fill="none" stroke-width="0.8" />
<rect x="663.9" y="856.2" width="6" height="11.6" fill="#fff" stroke-width="0.9" />
<rect x="664.6" y="856.2" width="5.3" height="5" fill="#161616" stroke-width="0.8" />
<line x1="664.6" y1="863.5" x2="669.8" y2="863.5" stroke-width="0.6" />
<line x1="664.6" y1="865.6" x2="669.8" y2="865.6" stroke-width="0.6" />
<rect x="648.3" y="869.6" width="8.6" height="59.2" fill="#fff" stroke-width="0" stroke="none"/>
<line x1="648.9" y1="869" x2="648.9" y2="928.9" stroke-width="1.3" />
<line x1="656.2" y1="869" x2="656.2" y2="928.9" stroke-width="1.3" />
</g>
<g transform="translate(548.2,47.4) scale(0.4508)">
<line x1="605.4" y1="580.6" x2="605.4" y2="603" stroke-width="12.0" stroke-linecap="round"/>
<line x1="702.1" y1="588.2" x2="702.1" y2="611" stroke-width="12.0" stroke-linecap="round"/>
<polygon points="550.3,599 806.4,618.6 806.4,630 767.2,688 511.4,666.9 511.4,654.9" fill="#fff" stroke-width="3.3274179236912156" />
<polyline points="511.4,666.9 550.6,611 806.4,630" fill="none" stroke-width="3.6601597160603374" />
<line x1="550.3" y1="599" x2="550.6" y2="611" stroke-width="2.495563442768412" />
<polyline points="550.3,599 511.4,654.9 511.4,666.9" fill="none" stroke-width="4.991126885536824" />
<line x1="550.3" y1="599" x2="806.4" y2="618.6" stroke-width="4.991126885536824" />
<polyline points="806.4,618.6 806.6,630" fill="none" stroke-width="3.9929015084294583" />
<polyline points="511.4,666.9 767.2,688 806.4,630" fill="none" stroke-width="3.3274179236912156" />
<line x1="582.1" y1="614.1" x2="543.5" y2="669" stroke-width="2.495563442768412" />
<line x1="531.2" y1="639.3" x2="563" y2="641.9" stroke-width="2.495563442768412" />
<line x1="574.3" y1="627.3" x2="604" y2="630.1" stroke-width="2.495563442768412" />
<line x1="613.9" y1="617.4" x2="601.2" y2="635.8" stroke-width="2.495563442768412" />
<line x1="645.8" y1="619.5" x2="633" y2="637.9" stroke-width="2.495563442768412" />
<line x1="635.1" y1="633.7" x2="668.4" y2="634.9" stroke-width="2.495563442768412" />
<line x1="554.5" y1="655.6" x2="571.5" y2="657" stroke-width="2.495563442768412" />
<line x1="589.9" y1="652" x2="581.4" y2="663.4" stroke-width="2.495563442768412" />
<line x1="622.4" y1="653.5" x2="608.3" y2="674.7" stroke-width="2.495563442768412" />
<line x1="619.6" y1="662" x2="647.9" y2="664.1" stroke-width="2.495563442768412" />
<line x1="652.8" y1="657" x2="645" y2="667.6" stroke-width="2.495563442768412" />
<line x1="678.3" y1="621.7" x2="664.9" y2="640.8" stroke-width="2.495563442768412" />
<line x1="709.4" y1="624.1" x2="696.7" y2="643" stroke-width="2.495563442768412" />
<line x1="741.2" y1="626.7" x2="729.2" y2="644.4" stroke-width="2.495563442768412" />
<line x1="773.1" y1="629.2" x2="736.3" y2="682.6" stroke-width="2.495563442768412" />
<line x1="766" y1="642.2" x2="794.3" y2="644.8" stroke-width="2.495563442768412" />
<line x1="747.6" y1="671.2" x2="775.2" y2="673.4" stroke-width="2.495563442768412" />
<line x1="699.5" y1="637.7" x2="731.3" y2="640.5" stroke-width="2.495563442768412" />
<line x1="738.4" y1="655.7" x2="753.3" y2="657.1" stroke-width="2.495563442768412" />
<line x1="753.3" y1="657.1" x2="747.6" y2="664.9" stroke-width="2.495563442768412" />
<line x1="685.4" y1="659.2" x2="671.2" y2="679" stroke-width="2.495563442768412" />
<line x1="716.5" y1="662.8" x2="703.8" y2="681.1" stroke-width="2.495563442768412" />
<line x1="681.1" y1="665.6" x2="712.2" y2="668.4" stroke-width="2.495563442768412" />
<ellipse cx="620.3" cy="632.2" rx="10.6" ry="4" fill="#fff" stroke-width="2.7451197870452533" transform="rotate(4 620.3 632.2)"/>
<polygon points="581.4,635.4 650,640.8 732.8,647.2 736,650.5 724.3,662.5 650,656.4 579.3,650.6" fill="#fff" stroke-width="3.3274179236912156" />
<path d="M581.4,635.4 Q574.5,640 571.6,649 L570.1,675.5 Q570.4,681.5 573.4,680.3 Q578.4,677 578.9,672 L579.3,650.6 Z" fill="#444" stroke-width="3.3274179236912156" />
<path d="M583.6,636.6 Q580.4,641 579.4,650.6" fill="none" stroke-width="2.495563442768412" />
<ellipse cx="574.7" cy="658.5" rx="0.6" ry="2.2" fill="none" stroke-width="2.661934338952973" />
<path d="M732.8,647.2 Q735.8,647.6 736.2,651 L736.2,682 Q734.6,690.6 729,692.5 Q726.2,692.5 725.8,687 L724.3,662.5 Z" fill="#444" stroke-width="3.3274179236912156" />
<path d="M734.2,648.6 L735.0,683 Q733.4,690 728.8,692" fill="none" stroke-width="2.495563442768412" />
<ellipse cx="729.8" cy="669" rx="0.7" ry="2.6" fill="none" stroke-width="2.661934338952973" />
<ellipse cx="605.4" cy="646.4" rx="7.5" ry="3.2" fill="#161616" stroke-width="1.0" />
<ellipse cx="701.6" cy="653.6" rx="7.5" ry="3.2" fill="#161616" stroke-width="1.0" />
<line x1="574.3" y1="680.6" x2="574.3" y2="790" stroke-width="3.3" />
<line x1="731.4" y1="692.6" x2="731.4" y2="790" stroke-width="3.3" />
<path d="M568.4,787.6 A85.4,24 0 0 1 739.1999999999999,787.6 L739.1999999999999,833.4 A85.4,28.3 0 0 1 568.4,833.4 Z" fill="#fff" stroke-width="4.159272404614019" />
<path d="M568.4,833.4 A85.4,29.4 0 0 1 739.1999999999999,833.4" fill="none" stroke-width="3.8265306122448974" />
<path d="M620,629.6 C621,640 632,655 640.8,669 C645,677 640,686 633,692.4 C622,702 600,712 599.2,723.3 C598.6,732 616,740 621.1,748.7 C623.4,753 623.0,758 623.1,764.6" fill="none" stroke-width="10.0" stroke-linecap="butt"/><path d="M620,629.6 C621,640 632,655 640.8,669 C645,677 640,686 633,692.4 C622,702 600,712 599.2,723.3 C598.6,732 616,740 621.1,748.7 C623.4,753 623.0,758 623.1,764.6" fill="none" stroke="#fff" stroke-width="4.6" stroke-linecap="butt"/>
<ellipse cx="570.9" cy="801.4" rx="0.9" ry="3.6" fill="#555" stroke-width="2.994676131322094" />
<ellipse cx="516.4" cy="797.5" rx="5.2" ry="9" fill="#fff" stroke-width="3.9929015084294583" />
<ellipse cx="516.4" cy="797.5" rx="4.6" ry="8" fill="#161616" stroke-width="1.0" />
<polygon points="521,792.6 536.4,793.3 536.4,803.5 521,802.9" fill="#161616" stroke-width="2.661934338952973" />
<ellipse cx="542.4" cy="799.4" rx="3.1" ry="9.6" fill="#161616" stroke-width="4.658385093167701" />
<line x1="546.3" y1="799.8" x2="568.2" y2="801.7" stroke-width="2.495563442768412" />
<ellipse cx="801" cy="819.6" rx="5.2" ry="9" fill="#fff" stroke-width="3.9929015084294583" />
<ellipse cx="801" cy="819.6" rx="4.6" ry="8" fill="#161616" stroke-width="1.0" />
<polygon points="796.4,814.7 781,815.4 781,825.6 796.4,825" fill="#161616" stroke-width="2.661934338952973" />
<ellipse cx="775" cy="821.5" rx="3.1" ry="9.6" fill="#161616" stroke-width="4.658385093167701" />
<line x1="739.4" y1="815.3" x2="771.6" y2="818" stroke-width="2.495563442768412" />
<rect x="642.6" y="833" width="20.9" height="11.5" fill="#161616" stroke-width="3.9929015084294583" />
<path d="M642.5,846.7 Q653.6,843.5 663.7,846.7 L663.7,869.4 Q653.6,875.5 642.5,869.4 Z" fill="#fff" stroke-width="5.323868677905946" />
<ellipse cx="653.1" cy="869.4" rx="8.2" ry="2.6" fill="none" stroke-width="2.661934338952973" />
<rect x="663.9" y="856.2" width="6" height="11.6" fill="#161616" stroke-width="2.994676131322094" />
<rect x="664.6" y="856.2" width="5.3" height="5" fill="#161616" stroke-width="2.661934338952973" />
</g>
<line x1="840.9" y1="437" x2="840.9" y2="1131.5" stroke-width="1.5" />
<line x1="845.3" y1="437" x2="845.3" y2="1131.5" stroke-width="1.8" />
<path d="M809.5,1189 L809.5,1145 Q809.5,1140.5 813,1138.6 Q826,1131 843.2,1131 Q861,1131 873.6,1138.2 Q876.9,1140.2 876.9,1144.6 L876.9,1188.7" fill="none" stroke-width="1.4" />
<path d="M710.4,1369 L710.4,1322 C713,1251.3 760.6,1201.7 809.5,1189.2 Q843,1180.6 876.9,1188.8 C925.8,1201.7 973.4,1251.3 976.0,1322 L976.0,1369" fill="none" stroke-width="1.4" />
<path d="M712.2,1305 A131.6,41.6 0 0 1 974.2,1303" fill="none" stroke-width="1.2" />
<ellipse cx="843.2" cy="1369.3" rx="132.9" ry="45.9" fill="none" stroke-width="1.25" />
<path d="M710.3000000000001,1369.3 A132.9,45.9 0 0 1 976.1,1369.3" fill="none" stroke-width="1.9" />
<ellipse cx="844.2" cy="1369.4" rx="118.9" ry="39.7" fill="none" stroke-width="1.25" />
<path d="M725.3000000000001,1369.4 A118.9,39.7 0 0 0 963.1,1369.4" fill="none" stroke-width="1.9" />
<path d="M761.5,1341.5 Q843.5,1363.5 923,1341.3" fill="none" stroke-width="1.3" />
<text x="96" y="201" font-size="37.4" fill="#000" stroke="none">A</text>
<text x="263" y="185.6" font-size="37.4" fill="#000" stroke="none">OFF</text>
<text x="428.8" y="152.7" font-size="75.1" fill="#000" stroke="none">B</text>
<text x="94.8" y="1543.8" font-size="37.4" fill="#000" stroke="none">C</text>
<text x="263.2" y="1526.8" font-size="37.4" fill="#000" stroke="none">ON</text>
<text x="804.3" y="172.3" font-size="16.6" fill="#000" stroke="none">x2</text>
<text x="509.2" y="1492.6" font-size="18.8" fill="#000" stroke="none">Instrukcja montażu / instalation instructions / Montageanleitung</text>
<text x="509.2" y="1518.1" font-size="18.8" fill="#000" stroke="none">Lampa wisząca / Pendant lamp / Hängelampe</text>
</svg>
</body></html>
